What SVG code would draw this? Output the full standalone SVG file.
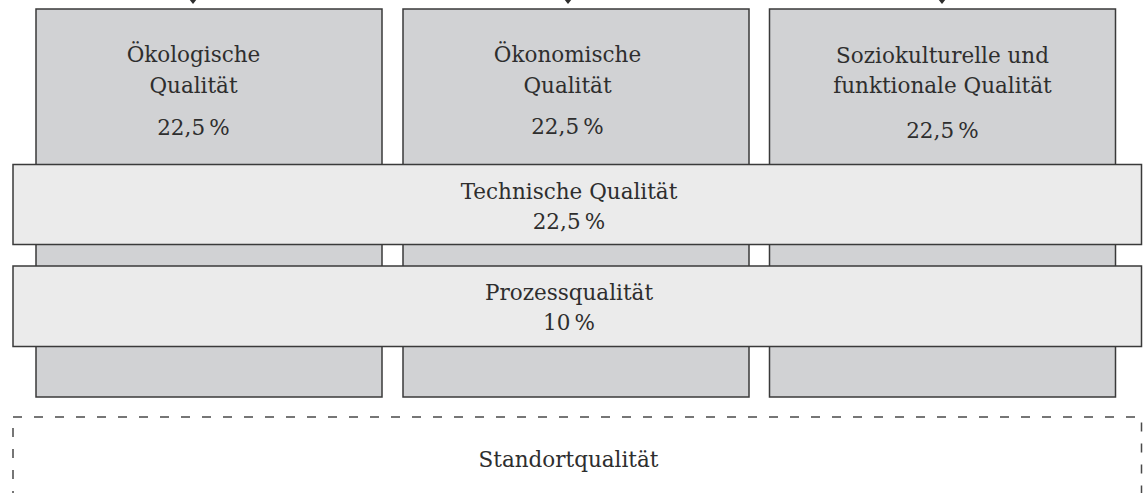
<svg xmlns="http://www.w3.org/2000/svg" width="1145" height="493" viewBox="0 0 1145 493">
  <style>
    .pillar { fill: #d1d2d4; stroke: #3a3a3a; stroke-width: 1.5; }
    .band { fill: #ebebeb; stroke: #3a3a3a; stroke-width: 1.5; }
    .site { fill: none; stroke: #4a4a4a; stroke-width: 1.5; stroke-dasharray: 9 12; }
    .label { font-family: "DejaVu Serif", "Liberation Serif", serif; font-size: 21.5px; fill: #2e2e2e; text-anchor: middle; }
    .tip { fill: #2e2e2e; }
  </style>
  <rect width="1145" height="493" fill="#ffffff"/>

  <!-- incoming arrows from above, only the heads are visible -->
  <g id="connectors">
    <polygon class="tip" points="189,-1 197,-1 193,4"/>
    <polygon class="tip" points="564,-1 572,-1 568,4"/>
    <polygon class="tip" points="938,-1 946,-1 942,4"/>
  </g>

  <!-- three pillars -->
  <g id="pillar-oekologisch">
    <rect class="pillar" x="36" y="9" width="346" height="388"/>
    <text class="label" x="193.5" y="62">Ökologische</text>
    <text class="label" x="193.5" y="93">Qualität</text>
    <text class="label" x="193.5" y="134.5">22,5&#8201;%</text>
  </g>
  <g id="pillar-oekonomisch">
    <rect class="pillar" x="403" y="9" width="346" height="388"/>
    <text class="label" x="567.5" y="62">Ökonomische</text>
    <text class="label" x="567.5" y="93">Qualität</text>
    <text class="label" x="567.5" y="134">22,5&#8201;%</text>
  </g>
  <g id="pillar-soziokulturell">
    <rect class="pillar" x="769.5" y="9" width="346" height="388"/>
    <text class="label" x="942.5" y="63">Soziokulturelle und</text>
    <text class="label" x="942.5" y="93">funktionale Qualität</text>
    <text class="label" x="942.5" y="137.5">22,5&#8201;%</text>
  </g>

  <!-- cross-cutting bands -->
  <g id="band-technisch">
    <rect class="band" x="13" y="164.5" width="1128.5" height="80"/>
    <text class="label" x="569" y="199">Technische Qualität</text>
    <text class="label" x="569" y="229">22,5&#8201;%</text>
  </g>
  <g id="band-prozess">
    <rect class="band" x="13" y="266" width="1128.5" height="80.5"/>
    <text class="label" x="569" y="300">Prozessqualität</text>
    <text class="label" x="569" y="330">10&#8201;%</text>
  </g>

  <!-- site quality, outside the rated total -->
  <g id="standort">
    <rect class="site" x="13" y="417" width="1128.5" height="110"/>
    <text class="label" x="568.5" y="467">Standortqualität</text>
  </g>
</svg>
